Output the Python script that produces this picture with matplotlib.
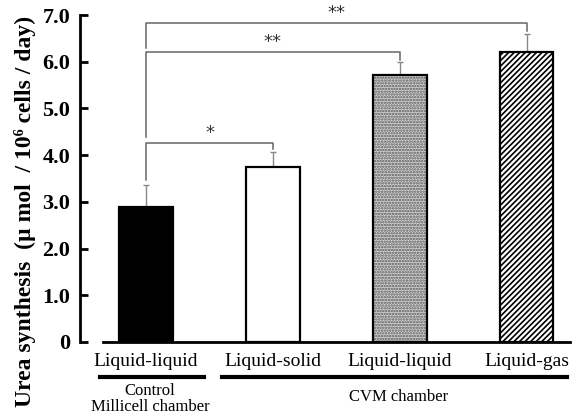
import numpy as np
import matplotlib
matplotlib.use("Agg")
import matplotlib.pyplot as plt

plt.rcParams['font.family'] = ['Liberation Serif', 'DejaVu Serif']
plt.rcParams['hatch.linewidth'] = 1.2

categories = ["Liquid-liquid", "Liquid-solid", "Liquid-liquid", "Liquid-gas"]
values = [2.9, 3.74, 5.71, 6.2]
errors = [0.47, 0.33, 0.29, 0.39]
group_labels = ["Control\nMillicell chamber", "CVM chamber"]
# brackets: (left bar, right bar, height, left leg bottom, right leg bottom, label)
brackets = [(0, 1, 4.27, 3.47, 4.13, "*"),
            (0, 2, 6.21, 4.39, 6.03, "**"),
            (0, 3, 6.83, 6.30, 6.65, "**")]

fig = plt.figure(figsize=(5.72, 4.17), dpi=100)
ax = fig.add_axes([0.1399, 0.1799, 0.8566, 0.7841])

x = np.arange(len(categories))
w = 0.42
faces = ["black", "white", "#d4d4d4", "white"]
hatches = [None, None, "......", "//////"]
for i in range(len(x)):
    ax.bar(x[i], values[i], w, color=faces[i], hatch=hatches[i],
           edgecolor="#555555" if i == 2 else "black", linewidth=0, zorder=2)
    ax.bar(x[i], values[i], w, color="none", edgecolor="black", linewidth=1.6, zorder=3)
    ax.errorbar(x[i], values[i], yerr=[[0], [errors[i]]], color="#888888",
                capsize=2, elinewidth=1, capthick=1, zorder=1)

for a, b, h, lb, rb, lab in brackets:
    ax.plot([x[a], x[a], x[b], x[b]], [lb, h, h, rb],
            color="#666666", lw=1.1, clip_on=False)
    ax.text((x[a] + x[b]) / 2, h + 0.02, lab, ha="center", va="bottom",
            fontsize=13, color="#333333", family="DejaVu Sans", clip_on=False)

ax.set_xlim(-0.52, 3.34)
ax.set_ylim(0, 7.0)
ax.set_yticks(np.arange(0, 7.5, 1.0))
ax.set_yticklabels(["0"] + ["%.1f" % v for v in np.arange(1, 7.5, 1.0)],
                   fontsize=16, fontweight="bold")
ax.tick_params(axis="y", direction="in", length=6, width=2, pad=7)
ax.set_xticks([])
for s in ["top", "right", "bottom"]:
    ax.spines[s].set_visible(False)
ax.spines["left"].set_linewidth(2)
ax.plot([-0.34, 3.34], [0, 0], color="black", lw=2, clip_on=False, zorder=4)

ax.set_ylabel("Urea synthesis  (\u00b5 mol  / 10\u2076 cells / day)",
              fontsize=17, fontweight="bold")
ax.yaxis.set_label_coords(-0.09, 0.40)

for i, c in enumerate(categories):
    ax.text(x[i], -0.42, c, ha="center", va="center", fontsize=14,
            clip_on=False)

ax.plot([-0.36, 0.46], [-0.75, -0.75], color="black", lw=3, clip_on=False)
ax.plot([0.6, 3.32], [-0.75, -0.75], color="black", lw=3, clip_on=False)
ax.text(0.03, -0.87, group_labels[0], ha="center", va="top", fontsize=12,
        linespacing=1.05, clip_on=False)
ax.text(1.99, -1.0, group_labels[1], ha="center", va="top", fontsize=12,
        clip_on=False)

fig.savefig("out.png", dpi=100)
